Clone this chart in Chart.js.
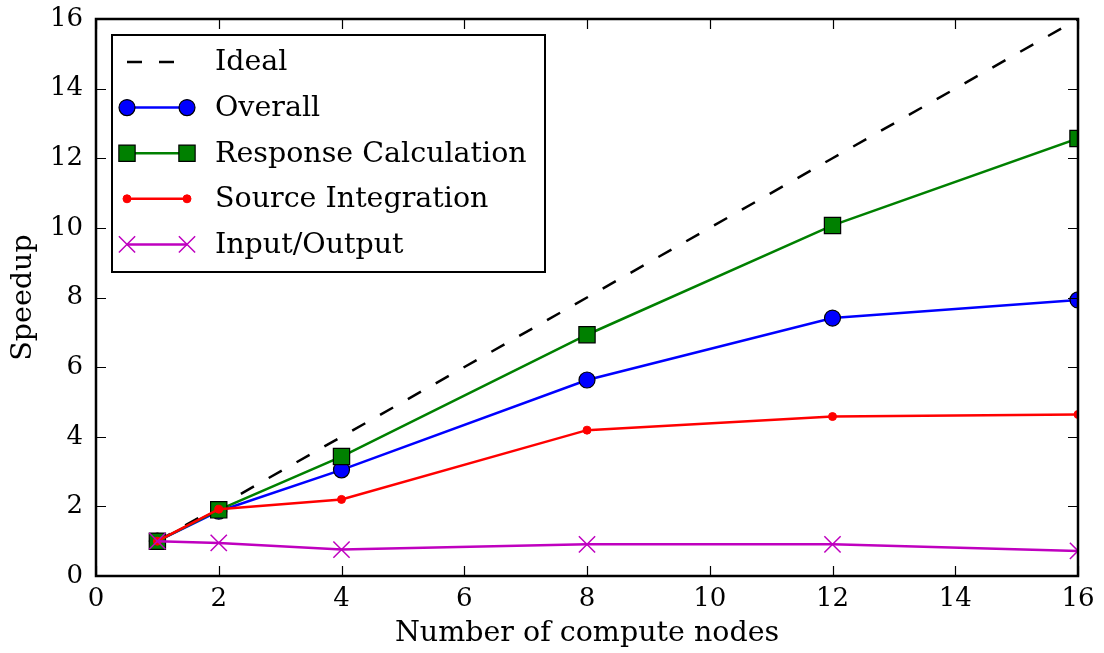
<!DOCTYPE html>
<html>
<head>
<meta charset="utf-8">
<script src="https://cdn.jsdelivr.net/npm/chart.js@4.4.1/dist/chart.umd.min.js"></script>
<style>
  html, body { margin: 0; padding: 0; background: #fff; }
  #wrap { width: 1104px; height: 653px; }
</style>
</head>
<body>
<div id="wrap"><canvas id="speedupChart"></canvas></div>
<script>
// speedup measurements per number of nodes
const nodes = [1, 2, 4, 8, 12, 16];
const ideal = [1, 2, 4, 8, 12, 16];
const overall = [1.0, 1.86, 3.05, 5.63, 7.41, 7.93];
const responseCalc = [1.0, 1.90, 3.43, 6.93, 10.07, 12.57];
const sourceIntegration = [1.0, 1.92, 2.20, 4.19, 4.58, 4.64];
const inputOutput = [1.0, 0.95, 0.76, 0.91, 0.91, 0.72];

const xTicks = [0, 2, 4, 6, 8, 10, 12, 14, 16];
const yTicks = [0, 2, 4, 6, 8, 10, 12, 14, 16];

const serif = "'DejaVu Serif', serif";

function pts(values) {
    return nodes.map((n, i) => ({ x: n, y: values[i] }));
}

// axes frame with inward tick marks on all four sides
const framePlugin = {
    id: 'frame',
    afterDatasetsDraw(chart) {
        const { ctx, chartArea: a, scales } = chart;
        const len = 10;
        ctx.save();
        ctx.strokeStyle = '#000';
        ctx.lineWidth = 1.2;
        ctx.beginPath();
        xTicks.forEach(v => {
            const px = Math.round(scales.x.getPixelForValue(v)) + 0.5;
            ctx.moveTo(px, a.bottom); ctx.lineTo(px, a.bottom - len);
            ctx.moveTo(px, a.top); ctx.lineTo(px, a.top + len);
        });
        yTicks.forEach(v => {
            const py = Math.round(scales.y.getPixelForValue(v)) + 0.5;
            ctx.moveTo(a.left, py); ctx.lineTo(a.left + len, py);
            ctx.moveTo(a.right, py); ctx.lineTo(a.right - len, py);
        });
        ctx.stroke();
        ctx.lineWidth = 2.5;
        ctx.strokeRect(a.left, a.top, a.right - a.left, a.bottom - a.top);
        ctx.restore();
    }
};

// matplotlib-like legend: line sample with a marker at each end
const legendPlugin = {
    id: 'boxLegend',
    afterDraw(chart) {
        const { ctx, chartArea: a } = chart;
        const x0 = a.left + 16, y0 = a.top + 16;
        const w = 433, h = 237, rowH = 45.6;
        ctx.save();
        ctx.fillStyle = '#fff';
        ctx.fillRect(x0, y0, w, h);
        ctx.strokeStyle = '#000';
        ctx.lineWidth = 2;
        ctx.strokeRect(x0, y0, w, h);
        chart.data.datasets.forEach((ds, i) => {
            const cy = y0 + 27 + i * rowH;
            const sx0 = x0 + 15, sx1 = x0 + 75;
            ctx.save();
            ctx.strokeStyle = ds.borderColor;
            ctx.lineWidth = ds.borderWidth;
            ctx.setLineDash(ds.borderDash || []);
            ctx.beginPath();
            ctx.moveTo(sx0, cy);
            ctx.lineTo(sx1, cy);
            ctx.stroke();
            ctx.restore();
            if (ds.pointRadius > 0) {
                [sx0, sx1].forEach(px => {
                    ctx.save();
                    ctx.fillStyle = ds.pointBackgroundColor;
                    ctx.strokeStyle = ds.pointBorderColor;
                    ctx.lineWidth = ds.pointBorderWidth;
                    Chart.helpers.drawPoint(ctx, {
                        pointStyle: ds.pointStyle,
                        radius: ds.pointRadius,
                        rotation: 0,
                        borderWidth: ds.pointBorderWidth
                    }, px, cy);
                    ctx.restore();
                });
            }
            ctx.fillStyle = '#000';
            ctx.font = '28.5px ' + serif;
            ctx.textBaseline = 'middle';
            ctx.textAlign = 'left';
            ctx.fillText(ds.label, x0 + 103, cy + 1);
        });
        ctx.restore();
    }
};

const ctx = document.getElementById('speedupChart').getContext('2d');
const chart = new Chart(ctx, {
    type: 'line',
    data: {
        datasets: [
            {
                label: 'Ideal',
                data: pts(ideal),
                borderColor: '#000',
                borderWidth: 2.5,
                borderDash: [15, 17],
                pointRadius: 0,
                order: 5
            },
            {
                label: 'Overall',
                data: pts(overall),
                borderColor: '#0000ff',
                borderWidth: 2.5,
                pointStyle: 'circle',
                pointRadius: 8,
                pointBackgroundColor: '#0000ff',
                pointBorderColor: '#000',
                pointBorderWidth: 1.2,
                order: 4
            },
            {
                label: 'Response Calculation',
                data: pts(responseCalc),
                borderColor: '#008000',
                borderWidth: 2.5,
                pointStyle: 'rect',
                pointRadius: 11.5,
                pointBackgroundColor: '#008000',
                pointBorderColor: '#000',
                pointBorderWidth: 1.2,
                order: 3
            },
            {
                label: 'Source Integration',
                data: pts(sourceIntegration),
                borderColor: '#ff0000',
                borderWidth: 2.5,
                pointStyle: 'circle',
                pointRadius: 4,
                pointBackgroundColor: '#ff0000',
                pointBorderColor: '#ff0000',
                pointBorderWidth: 1,
                order: 2
            },
            {
                label: 'Input/Output',
                data: pts(inputOutput),
                borderColor: '#bf00bf',
                borderWidth: 2.5,
                pointStyle: 'crossRot',
                pointRadius: 11.5,
                pointBackgroundColor: '#bf00bf',
                pointBorderColor: '#bf00bf',
                pointBorderWidth: 1.5,
                order: 1
            }
        ]
    },
    options: {
        responsive: true,
        maintainAspectRatio: false,
        devicePixelRatio: 1,
        animation: false,
        events: [],
        clip: 0,
        datasets: { line: { clip: 0, tension: 0 } },
        layout: { padding: { top: 19, right: 26, left: 0, bottom: 0 } },
        plugins: {
            legend: { display: false },
            tooltip: { enabled: false }
        },
        scales: {
            x: {
                type: 'linear',
                min: 0,
                max: 16,
                afterFit(s) {
                    s.height = 77;
                    s.paddingLeft = 0;
                    s.paddingRight = 0;
                },
                afterBuildTicks(s) { s.ticks = xTicks.map(v => ({ value: v })); },
                grid: { display: false, drawTicks: false },
                border: { display: false },
                ticks: {
                    padding: 8,
                    color: '#000',
                    font: { family: serif, size: 26 }
                },
                title: {
                    display: true,
                    text: 'Number of compute nodes',
                    color: '#000',
                    font: { family: serif, size: 28.5 },
                    padding: { top: 0, bottom: 2 }
                }
            },
            y: {
                min: 0,
                max: 16,
                afterFit(s) {
                    s.width = 96;
                    s.paddingTop = 0;
                    s.paddingBottom = 0;
                },
                afterBuildTicks(s) { s.ticks = yTicks.map(v => ({ value: v })); },
                grid: { display: false, drawTicks: false },
                border: { display: false },
                ticks: {
                    padding: 13,
                    color: '#000',
                    font: { family: serif, size: 26 }
                },
                title: {
                    display: true,
                    text: 'Speedup',
                    color: '#000',
                    font: { family: serif, size: 28.5 },
                    padding: { top: 6, bottom: 0 }
                }
            }
        }
    },
    plugins: [framePlugin, legendPlugin]
});
</script>
</body>
</html>
